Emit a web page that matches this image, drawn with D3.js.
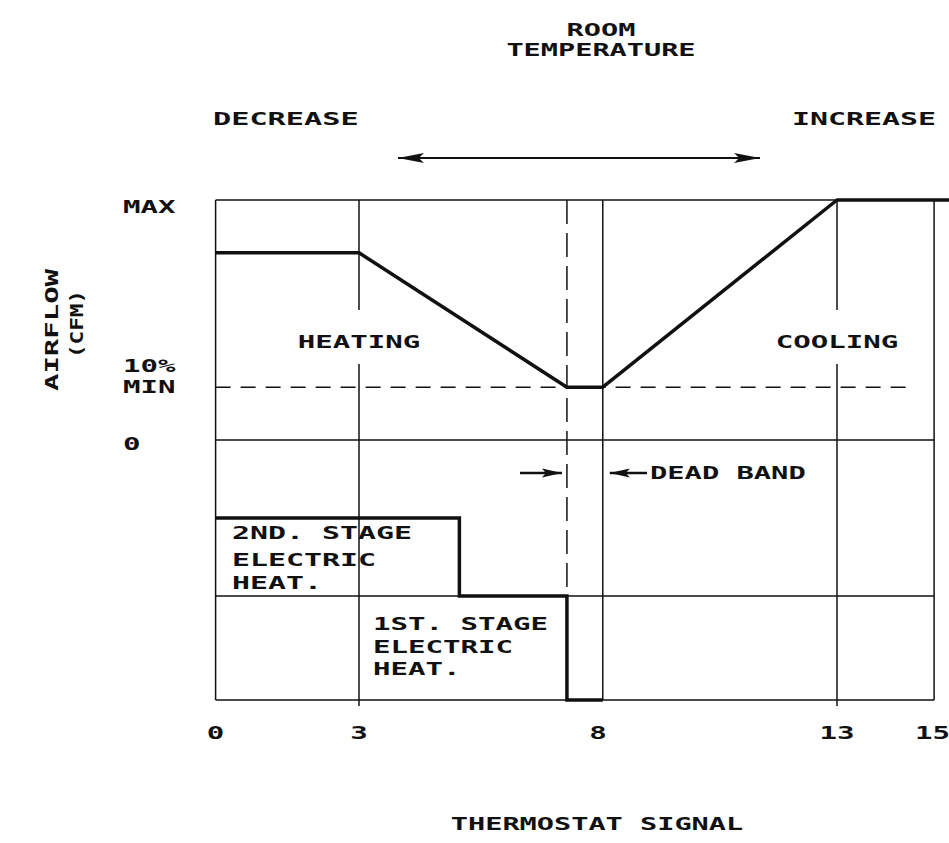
<!DOCTYPE html>
<html>
<head>
<meta charset="utf-8">
<script src="https://cdn.jsdelivr.net/npm/d3@7"></script>
<style>
  html, body { margin: 0; padding: 0; background: #fff; }
  svg { display: block; }
  text { font-family: "DejaVu Sans Mono", "Liberation Mono", monospace; font-weight: bold; fill: #111; }
</style>
</head>
<body>
<div id="chart"></div>
<script>
// thermostat signal ticks
var xTicks = [0, 3, 8, 13, 15]
// airflow curve (percent of max)
var flowX = [0, 3, 7.35, 8.1, 13, 15.35]
var flowY = [78, 78, 22, 22, 100, 100]
var flowTickVals = [100, 22, 0]
var flowTickText = [["MAX"], ["10%", "MIN"], ["0"]]
// electric heat steps (0 = off)
var heatX = [0, 5.1, 7.35, 8.1]
var heatY = [0.7, 0.4, 0, 0]
var gridX = [3, 8.1, 13]
var deadBandX = 7.35
var minFlow = 22
var stage1Level = 0.4

var W = 949, H = 843
var FS = 18.5
var svg = d3.select("#chart").append("svg")
	.attr("width", W)
	.attr("height", H)

var x = d3.scaleLinear().domain([0, 15]).range([215.6, 932.6])
var yFlow = d3.scaleLinear().domain([0, 100]).range([440, 200])
var yHeat = d3.scaleLinear().domain([0, 1]).range([700, 440])

var PITCH = 17.5
function label(str, cx, base, anchor, pitch) {
	pitch = pitch || PITCH
	var len = str.length * pitch
	var sx = anchor == "start" ? cx : anchor == "end" ? cx - len : cx - len / 2
	return svg.append("text")
		.attr("x", sx)
		.attr("y", base)
		.attr("font-size", FS)
		.attr("textLength", len)
		.attr("lengthAdjust", "spacingAndGlyphs")
		.text(str)
}

function seg(x1, y1, x2, y2, sw, dash) {
	var l = svg.append("line")
		.attr("x1", x1).attr("y1", y1)
		.attr("x2", x2).attr("y2", y2)
		.attr("stroke", "#111")
		.attr("stroke-width", sw || 1.5)
	if (dash) l.attr("stroke-dasharray", dash)
	return l
}

// frame + grid
seg(x(0), yFlow(100), x(15) + 1.5, yFlow(100))
seg(x(0), yFlow(0), x(15) + 1.5, yFlow(0))
seg(x(0), yHeat(stage1Level), x(15) + 1.5, yHeat(stage1Level))
seg(x(0), yHeat(0), x(15) + 1.5, yHeat(0))
seg(x(0), yFlow(100), x(0), yHeat(0))
seg(x(15) + 1.5, yFlow(100), x(15) + 1.5, yHeat(0))
gridX.forEach(function(v) {
	var ext = (v == 3 || v == 13) ? 6 : 0
	seg(x(v), yFlow(100), x(v), yHeat(0) + ext)
})
// dead band dashed line + min airflow dashed line
seg(x(deadBandX), yFlow(100), x(deadBandX), yHeat(stage1Level), 1.5, "24,9")
seg(x(0), yFlow(minFlow), x(14.63), yFlow(minFlow), 1.5, "15,10")

// region labels (white gap in grid lines)
svg.append("rect").attr("x", x(3) - 8).attr("y", 310).attr("width", 16).attr("height", 54).attr("fill", "#fff")
svg.append("rect").attr("x", x(13) - 8).attr("y", 310).attr("width", 16).attr("height", 54).attr("fill", "#fff")
label("HEATING", x(3), 348, "middle")
label("COOLING", x(13), 348, "middle")

// airflow curve
var line = d3.line()
svg.append("path")
	.attr("d", line(flowX.map(function(v, i) { return [x(v), yFlow(flowY[i])] })))
	.attr("fill", "none")
	.attr("stroke", "#111")
	.attr("stroke-width", 3.5)
	.attr("stroke-linejoin", "round")

// electric heat step
svg.append("path")
	.attr("d", d3.line().curve(d3.curveStepAfter)(heatX.map(function(v, i) { return [x(v), yHeat(heatY[i])] })))
	.attr("fill", "none")
	.attr("stroke", "#111")
	.attr("stroke-width", 3.5)

label("2ND. STAGE", 232, 539, "start", 18)
label("ELECTRIC", 232, 566, "start", 18)
label("HEAT.", 232, 589, "start", 18)
label("1ST. STAGE", 373, 630, "start")
label("ELECTRIC", 373, 653, "start")
label("HEAT.", 373, 675, "start")

// y axis labels
flowTickVals.forEach(function(v, i) {
	var lines = flowTickText[i]
	var base = lines.length == 2 ? yFlow(v) - 15 : (v == 100 ? yFlow(v) + 13 : yFlow(v) + 10)
	lines.forEach(function(t, j) {
		label(t, 123, base + j * 21, "start")
	})
})
svg.append("g")
	.attr("transform", "translate(58,330) rotate(-90)")
	.append("text")
	.attr("x", -61).attr("y", 0)
	.attr("font-size", FS)
	.attr("textLength", 122)
	.attr("lengthAdjust", "spacingAndGlyphs")
	.text("AIRFLOW")
svg.append("g")
	.attr("transform", "translate(83,324) rotate(-90)")
	.append("text")
	.attr("x", -34).attr("y", 0)
	.attr("font-size", FS)
	.attr("textLength", 68)
	.attr("lengthAdjust", "spacingAndGlyphs")
	.text("(CFM)")

// x tick labels
xTicks.forEach(function(v) {
	label(String(v), x(v), 739, "middle")
})
label("THERMOSTAT SIGNAL", 597, 830, "middle", 17.2)

// top annotation
label("ROOM", 601, 36, "middle", 17.2)
label("TEMPERATURE", 601, 56, "middle", 17.2)
label("DECREASE", 213, 125, "start", 18.2)
label("INCREASE", 936, 125, "end", 18)

function arrowHead(tx, ty, dir, len, hw) {
	svg.append("path")
		.attr("d", "M" + tx + "," + ty + "L" + (tx - dir * len) + "," + (ty - hw) + "L" + (tx - dir * len * 0.8) + "," + ty + "L" + (tx - dir * len) + "," + (ty + hw) + "Z")
		.attr("fill", "#111")
}
seg(398, 158, 760, 158, 2)
arrowHead(398, 158, -1, 26, 5)
arrowHead(760, 158, 1, 26, 5)

// dead band arrows
seg(520, 473, x(deadBandX) - 5, 473, 2.5)
arrowHead(x(deadBandX) - 5, 473, 1, 20, 4.5)
seg(647, 473, x(8.1) + 7, 473, 2.5)
arrowHead(x(8.1) + 7, 473, -1, 20, 4.5)
label("DEAD BAND", 650, 479, "start", 17.3)
</script>
</body>
</html>
